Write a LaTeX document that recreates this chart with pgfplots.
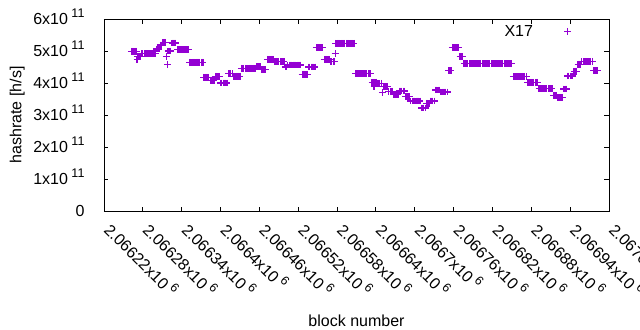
\documentclass[border=0pt]{standalone}
\usepackage{fontspec}
\setmainfont{Liberation Sans}
\usepackage{pgfplots}
\usepackage{pgfplotstable}
\pgfplotsset{compat=1.18}
\definecolor{dv}{HTML}{9400D3}
\newcommand{\sx}[1]{\kern3.5bp\raisebox{0.42em}{\fontsize{12.5bp}{12.5bp}\selectfont #1}}
\pgfplotsset{mylegimg/.style={legend image code/.code={\draw[mark repeat=2,mark phase=2,##1] plot coordinates {(0bp,0bp) (28bp,0bp) (56bp,0bp)};}}}
% x = block number - 2066000 ; y = hashrate in units of 1e11 h/s
\pgfplotstableread[row sep=\\]{
x y\\
262 4.99\\ 264 4.99\\ 266 4.99\\ 268 4.99\\ 270 4.99\\
271 4.74\\ 272 4.82\\ 274 4.82\\ 276 4.82\\
278 4.92\\ 280 4.92\\ 282 4.92\\ 284 4.92\\ 286 4.92\\ 288 4.92\\ 290 4.92\\ 292 4.92\\ 294 4.92\\ 296 4.92\\ 298 4.92\\ 300 4.92\\
301 5.06\\ 303 5.06\\ 305 5.06\\
307 5.19\\ 309 5.19\\
311 5.27\\ 313 5.27\\ 315 5.27\\
316 4.82\\ 318 4.58\\
319 5.00\\ 321 5.00\\ 323 5.00\\
325 5.25\\ 327 5.25\\ 329 5.25\\ 331 5.25\\
333 5.05\\ 335 5.05\\ 337 5.05\\ 339 5.05\\ 341 5.05\\ 343 5.05\\ 345 5.05\\ 347 5.05\\ 349 5.05\\ 351 5.05\\
352 4.65\\ 354 4.65\\ 356 4.65\\ 358 4.65\\ 360 4.65\\ 362 4.65\\ 364 4.65\\ 366 4.65\\ 368 4.65\\ 370 4.65\\ 372 4.65\\ 373 4.65\\
374 4.18\\ 376 4.18\\ 378 4.18\\ 380 4.18\\ 382 4.18\\
384 4.09\\ 386 4.09\\ 388 4.09\\ 390 4.09\\
392 4.21\\ 394 4.21\\ 396 4.21\\ 398 4.21\\
400 4.00\\ 402 4.00\\ 404 4.00\\ 406 4.00\\ 408 4.00\\ 410 4.00\\
412 4.30\\ 414 4.30\\ 416 4.30\\ 418 4.30\\
420 4.21\\ 422 4.21\\ 424 4.21\\ 426 4.21\\ 428 4.21\\ 430 4.21\\
432 4.46\\ 434 4.46\\ 436 4.46\\ 438 4.46\\ 440 4.46\\ 442 4.46\\ 444 4.46\\ 446 4.46\\ 448 4.46\\ 450 4.46\\ 452 4.46\\ 454 4.46\\
456 4.51\\ 458 4.51\\ 460 4.51\\ 462 4.51\\
464 4.41\\ 466 4.41\\ 468 4.41\\ 470 4.41\\
472 4.74\\ 474 4.74\\ 476 4.74\\ 478 4.74\\ 480 4.74\\ 482 4.74\\
484 4.67\\ 486 4.67\\ 488 4.67\\ 490 4.67\\ 492 4.67\\ 494 4.67\\ 496 4.67\\ 498 4.67\\
500 4.50\\ 502 4.50\\
504 4.56\\ 506 4.56\\ 508 4.56\\ 510 4.56\\ 512 4.56\\ 514 4.56\\ 516 4.56\\ 518 4.56\\ 520 4.56\\ 522 4.56\\ 524 4.56\\
526 4.27\\ 528 4.27\\ 530 4.27\\ 532 4.27\\ 534 4.27\\
536 4.50\\ 538 4.50\\ 540 4.50\\ 542 4.50\\ 544 4.50\\ 546 4.50\\
548 5.11\\ 550 5.11\\ 552 5.11\\ 554 5.11\\ 556 5.11\\ 558 5.11\\
560 4.74\\ 562 4.74\\ 564 4.74\\ 566 4.74\\ 568 4.74\\
570 4.67\\ 572 4.67\\ 574 4.67\\ 576 4.67\\ 577 4.93\\
578 5.24\\ 580 5.24\\ 582 5.24\\ 584 5.24\\ 586 5.24\\ 588 5.24\\ 590 5.24\\ 592 5.24\\ 594 5.24\\ 596 5.24\\ 598 5.24\\ 600 5.24\\ 602 5.24\\ 604 5.24\\ 606 5.24\\
608 4.29\\ 610 4.29\\ 612 4.29\\ 614 4.29\\ 616 4.29\\ 618 4.29\\ 620 4.29\\ 622 4.29\\ 624 4.29\\ 626 4.29\\ 628 4.29\\ 630 4.29\\ 632 4.29\\
634 4.02\\ 636 4.02\\ 637 3.88\\ 638 4.02\\ 640 4.02\\
642 3.99\\ 644 3.99\\ 646 3.99\\ 648 3.99\\
650 3.71\\
652 3.88\\ 654 3.88\\ 656 3.88\\ 658 3.88\\
660 3.74\\ 662 3.74\\ 664 3.74\\ 666 3.74\\
668 3.64\\ 670 3.64\\ 672 3.64\\ 674 3.64\\
676 3.75\\ 678 3.75\\ 680 3.75\\ 682 3.75\\ 684 3.75\\
686 3.57\\ 688 3.57\\ 690 3.57\\ 692 3.57\\
694 3.44\\ 696 3.44\\ 698 3.44\\ 700 3.44\\ 702 3.44\\ 704 3.44\\ 706 3.44\\ 708 3.44\\
710 3.22\\ 712 3.22\\ 714 3.22\\ 716 3.22\\
718 3.37\\ 720 3.37\\ 722 3.37\\
724 3.44\\ 726 3.44\\ 728 3.44\\ 730 3.44\\
732 3.78\\ 734 3.78\\ 736 3.78\\ 738 3.78\\
740 3.72\\ 742 3.72\\ 744 3.72\\ 746 3.72\\ 748 3.72\\ 750 3.72\\
752 4.39\\ 754 4.39\\ 756 4.39\\
758 5.11\\ 760 5.11\\ 762 5.11\\ 764 5.11\\ 766 5.11\\ 768 5.11\\
770 4.83\\ 772 4.83\\ 774 4.83\\
776 4.61\\ 778 4.61\\ 780 4.61\\ 782 4.61\\ 784 4.61\\ 786 4.61\\ 788 4.61\\ 790 4.61\\ 792 4.61\\ 794 4.61\\
796 4.61\\ 798 4.61\\ 800 4.61\\ 802 4.61\\ 804 4.61\\ 806 4.61\\ 808 4.61\\ 810 4.61\\ 812 4.61\\ 814 4.61\\
816 4.61\\ 818 4.61\\ 820 4.61\\ 822 4.61\\ 824 4.61\\ 826 4.61\\ 828 4.61\\ 830 4.61\\ 832 4.61\\ 834 4.61\\
836 4.61\\ 838 4.61\\ 840 4.61\\ 842 4.61\\ 844 4.61\\ 846 4.61\\ 848 4.61\\ 850 4.61\\
852 4.20\\ 854 4.20\\ 856 4.20\\ 858 4.20\\ 860 4.20\\ 862 4.20\\ 864 4.20\\ 866 4.20\\ 868 4.20\\ 870 4.20\\ 872 4.20\\
874 4.02\\ 876 4.02\\ 878 4.02\\ 880 4.02\\ 882 4.02\\ 884 4.02\\ 886 4.02\\ 888 4.02\\ 890 4.02\\
892 3.83\\ 894 3.83\\ 896 3.83\\ 898 3.83\\ 900 3.83\\ 902 3.83\\ 904 3.83\\ 906 3.83\\ 908 3.83\\ 910 3.83\\ 912 3.83\\
914 3.61\\ 916 3.61\\ 918 3.61\\
920 3.54\\ 922 3.54\\ 924 3.54\\ 926 3.54\\ 928 3.54\\
930 3.81\\ 932 3.81\\ 934 3.81\\
936 4.22\\ 938 4.22\\ 940 4.22\\ 942 4.22\\ 944 4.22\\
946 4.37\\ 948 4.37\\ 950 4.37\\
952 4.59\\ 954 4.59\\ 956 4.59\\
958 4.66\\ 960 4.66\\ 962 4.66\\ 964 4.66\\ 966 4.66\\ 968 4.66\\ 970 4.66\\ 972 4.66\\ 974 4.66\\
976 4.39\\ 978 4.39\\ 980 4.39\\ 982 4.39\\
}\hashdata
\begin{document}
\fontsize{16bp}{19bp}\selectfont
\begin{tikzpicture}
\begin{axis}[
  at={(0,0)}, anchor=south west,
  width=505bp, height=192bp, scale only axis,
  xmin=220, xmax=1000, ymin=0, ymax=6,
  xtick={220,280,...,1000},
  xticklabels={2.06622x10\sx{6},2.06628x10\sx{6},2.06634x10\sx{6},2.0664x10\sx{6},2.06646x10\sx{6},2.06652x10\sx{6},2.06658x10\sx{6},2.06664x10\sx{6},2.0667x10\sx{6},2.06676x10\sx{6},2.06682x10\sx{6},2.06688x10\sx{6},2.06694x10\sx{6},2.0670x10\sx{6}},
  ytick={0,1,2,3,4,5,6},
  yticklabels={0,1x10\sx{11},2x10\sx{11},3x10\sx{11},4x10\sx{11},5x10\sx{11},6x10\sx{11}},
  tick align=inside, tick pos=both,
  major tick length=4.5bp,
  axis line style={black, line width=0.9bp},
  every tick/.style={black, line width=0.9bp},
  xticklabel style={xshift=10bp, yshift=-1.5bp, rotate=-45, anchor=north west, font=\fontsize{16bp}{19bp}\selectfont},
  yticklabel style={anchor=base east, yshift=-5.6bp, xshift=-14bp, font=\fontsize{16bp}{19bp}\selectfont},
  xlabel={block number}, ylabel={hashrate [h/s]},
  label style={font=\fontsize{16bp}{19bp}\selectfont},
  xlabel style={at={(axis description cs:0.5,-0.573)}, anchor=center},
  ylabel style={at={(axis description cs:-0.172,0.5)}, anchor=center},
  legend plot pos=right,
  legend cell align=right,
  legend style={draw=none, fill=none, column sep=29bp, at={(axis description cs:1,1)}, anchor=north east, xshift=-35bp, yshift=-2bp, font=\fontsize{16bp}{19bp}\selectfont},
]
\addplot[only marks, mark=+, mark size=3.4bp, color=dv, line width=1.2bp, mylegimg]
  table[x=x, y=y] {\hashdata};
\addlegendentry{X17}
\end{axis}
\pgfresetboundingbox
\path[use as bounding box] (-104bp,-119bp) rectangle (536bp,211bp);
\end{tikzpicture}
\end{document}
